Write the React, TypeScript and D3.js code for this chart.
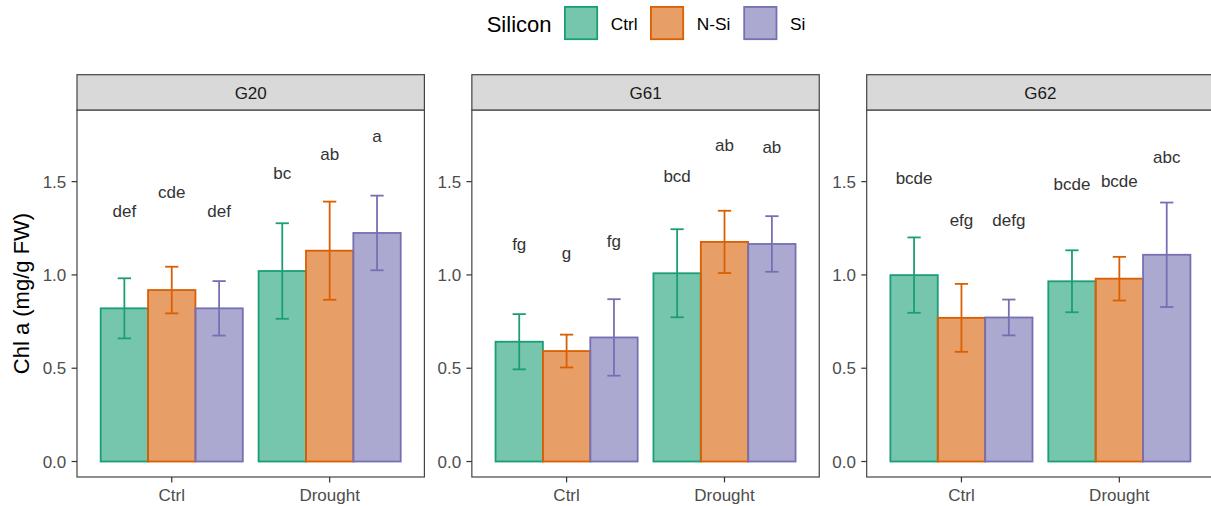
import React from "react";
import * as d3 from "d3";

const panels = ["G20", "G61", "G62"];
const conditions = ["Ctrl", "Drought"];
const silicon = ["Ctrl", "N-Si", "Si"];
const colors = ["#1B9E77", "#D95F02", "#7570B3"];

// order: Ctrl/Ctrl, Ctrl/N-Si, Ctrl/Si, Drought/Ctrl, Drought/N-Si, Drought/Si
const meansG20 = [0.821, 0.919, 0.821, 1.021, 1.13, 1.225];
const meansG61 = [0.642, 0.592, 0.665, 1.009, 1.177, 1.166];
const meansG62 = [0.999, 0.77, 0.772, 0.966, 0.98, 1.108];

const seG20 = [0.161, 0.125, 0.146, 0.256, 0.263, 0.2];
const seG61 = [0.148, 0.088, 0.205, 0.236, 0.167, 0.149];
const seG62 = [0.202, 0.182, 0.096, 0.166, 0.117, 0.28];

const lettersG20 = ["def", "cde", "def", "bc", "ab", "a"];
const lettersG61 = ["fg", "g", "fg", "bcd", "ab", "ab"];
const lettersG62 = ["bcde", "efg", "defg", "bcde", "bcde", "abc"];

const letterYG20 = [1.312, 1.413, 1.312, 1.513, 1.618, 1.713];
const letterYG61 = [1.134, 1.086, 1.151, 1.5, 1.665, 1.652];
const letterYG62 = [1.488, 1.261, 1.261, 1.455, 1.47, 1.599];

const yTicks = [0, 0.5, 1.0, 1.5];

const means = [meansG20, meansG61, meansG62];
const ses = [seG20, seG61, seG62];
const letters = [lettersG20, lettersG61, lettersG62];
const letterYs = [letterYG20, letterYG61, letterYG62];

const FONT = "'Liberation Sans', Arial, Helvetica, sans-serif";

export default function App() {
  const W = 1211;
  const H = 506;
  const panelLeft0 = 77;
  const panelStep = 394.85;
  const panelW = 347.4;
  const stripTop = 74.7;
  const panelTop = 110;
  const panelBottom = 477;
  const LW = 1.8;

  const y = d3.scaleLinear().domain([-0.083, 1.884]).range([panelBottom, panelTop]);

  const legendItems = [
    { x: 564, lx: 610.7 },
    { x: 650, lx: 696.7 },
    { x: 743.3, lx: 790 },
  ];

  return (
    <svg
      width={W}
      height={H}
      style={{ position: "absolute", left: 0, top: 0, background: "#fff" }}
      fontFamily={FONT}
    >
      <rect x={0} y={0} width={W} height={H} fill="#fff" />
      {/* Legend */}
      <text x={486.7} y={31.7} fontSize={22} fill="#000">
        Silicon
      </text>
      {silicon.map((s, i) => (
        <g key={s}>
          <rect
            x={legendItems[i].x + 0.9}
            y={6.9}
            width={32.3}
            height={32.3}
            fill={colors[i]}
            fillOpacity={0.6}
            stroke={colors[i]}
            strokeWidth={LW}
          />
          <text x={legendItems[i].lx} y={29.8} fontSize={17.3} fill="#000">
            {s}
          </text>
        </g>
      ))}

      {/* Y axis title */}
      <text
        transform={`translate(28.7, ${(panelTop + panelBottom) / 2}) rotate(-90)`}
        textAnchor="middle"
        fontSize={22}
        fill="#000"
      >
        Chl a (mg/g FW)
      </text>

      {panels.map((p, pi) => {
        const left = panelLeft0 + pi * panelStep;
        const right = left + panelW;
        const x = d3.scalePoint<string>().domain(conditions).range([left, right]).padding(0.6);
        const step = x.step();
        const inner = d3
          .scaleBand<string>()
          .domain(silicon)
          .range([-0.45 * step, 0.45 * step])
          .padding(0);
        const bw = inner.bandwidth();
        const cap = bw * 0.28;
        return (
          <g key={p}>
            <rect x={left} y={panelTop} width={panelW} height={panelBottom - panelTop} fill="#fff" />
            {/* bars */}
            {conditions.map((c, ci) =>
              silicon.map((s, si) => {
                const idx = ci * 3 + si;
                const v = means[pi][idx];
                const bx = (x(c) as number) + (inner(s) as number);
                return (
                  <rect
                    key={`b${idx}`}
                    x={bx}
                    y={y(v)}
                    width={bw}
                    height={y(0) - y(v)}
                    fill={colors[si]}
                    fillOpacity={0.6}
                    stroke={colors[si]}
                    strokeWidth={LW}
                  />
                );
              })
            )}
            {/* error bars */}
            {conditions.map((c, ci) =>
              silicon.map((s, si) => {
                const idx = ci * 3 + si;
                const v = means[pi][idx];
                const e = ses[pi][idx];
                const cx = (x(c) as number) + (inner(s) as number) + bw / 2;
                return (
                  <g key={`e${idx}`} stroke={colors[si]} strokeWidth={LW} fill="none">
                    <line x1={cx} x2={cx} y1={y(v - e)} y2={y(v + e)} />
                    <line x1={cx - cap / 2} x2={cx + cap / 2} y1={y(v + e)} y2={y(v + e)} />
                    <line x1={cx - cap / 2} x2={cx + cap / 2} y1={y(v - e)} y2={y(v - e)} />
                  </g>
                );
              })
            )}
            {/* letters */}
            {conditions.map((c, ci) =>
              silicon.map((s, si) => {
                const idx = ci * 3 + si;
                const cx = (x(c) as number) + (inner(s) as number) + bw / 2;
                return (
                  <text
                    key={`t${idx}`}
                    x={cx}
                    y={y(letterYs[pi][idx])}
                    textAnchor="middle"
                    fontSize={17}
                    fill="#333333"
                  >
                    {letters[pi][idx]}
                  </text>
                );
              })
            )}
            {/* panel border */}
            <rect
              x={left}
              y={panelTop}
              width={panelW}
              height={panelBottom - panelTop}
              fill="none"
              stroke="#444"
              strokeWidth={1.2}
            />
            {/* strip */}
            <rect
              x={left}
              y={stripTop}
              width={panelW}
              height={panelTop - stripTop}
              fill="#D9D9D9"
              stroke="#444"
              strokeWidth={1.2}
            />
            <text
              x={(left + right) / 2}
              y={99}
              textAnchor="middle"
              fontSize={17}
              fill="#1A1A1A"
            >
              {p}
            </text>
            {/* y axis */}
            {yTicks.map((t) => (
              <g key={`y${t}`}>
                <line x1={left - 5.4} x2={left} y1={y(t)} y2={y(t)} stroke="#333" strokeWidth={1.2} />
                <text
                  x={left - 10.7}
                  y={y(t)}
                  dy="0.36em"
                  textAnchor="end"
                  fontSize={17}
                  fill="#4D4D4D"
                >
                  {d3.format(".1f")(t)}
                </text>
              </g>
            ))}
            {/* x axis */}
            {conditions.map((c) => (
              <g key={`x${c}`}>
                <line
                  x1={x(c)}
                  x2={x(c)}
                  y1={panelBottom}
                  y2={panelBottom + 5.4}
                  stroke="#333"
                  strokeWidth={1.2}
                />
                <text x={x(c)} y={501} textAnchor="middle" fontSize={17} fill="#4D4D4D">
                  {c}
                </text>
              </g>
            ))}
          </g>
        );
      })}
    </svg>
  );
}
